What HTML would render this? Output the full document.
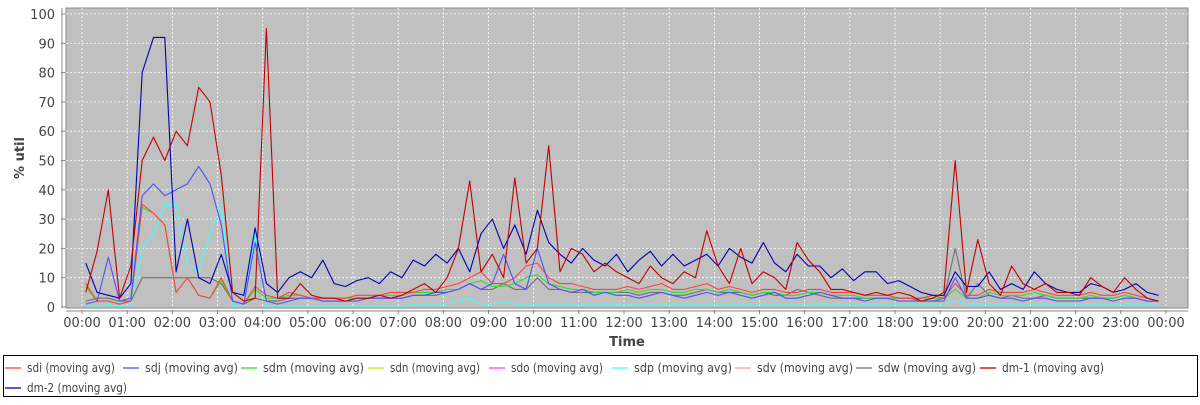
<!DOCTYPE html>
<html><head><meta charset="utf-8"><style>
body{margin:0;background:#fff;font-family:"Liberation Sans","DejaVu Sans",sans-serif}
svg text{font-family:"DejaVu Sans","Liberation Sans",sans-serif}
</style></head><body>
<svg id="c" width="1200" height="400">
<rect x="66" y="8" width="1122" height="300" fill="#c0c0c0" stroke="#888"/>
<g id="grid"></g><g id="axes"></g><g id="series"></g>
<text x="627" y="346" font-size="13" font-weight="bold" fill="#444" text-anchor="middle">Time</text>
<text transform="translate(24,158) rotate(-90)" font-size="13" font-weight="bold" fill="#444" text-anchor="middle">% util</text>
<rect x="3.5" y="355.5" width="1194" height="41" fill="#fff" stroke="#000"/>
<g id="legend"></g>
</svg>
<script>
const startMin=5, stepMin=15;
const yTicks=[0,10,20,30,40,50,60,70,80,90,100];
const xTickLabels=["00:00","01:00","02:00","03:00","04:00","05:00","06:00","07:00","08:00","09:00","10:00","11:00","12:00","13:00","14:00","15:00","16:00","17:00","18:00","19:00","20:00","21:00","22:00","23:00","00:00"];
const seriesNames=["sdi","sdj","sdm","sdn","sdo","sdp","sdv","sdw","dm-1","dm-2"];
const seriesColors=["#ff4040","#5050ff","#30e030","#e0e000","#ff40ff","#40ffff","#ffa0a0","#707070","#c00000","#0000b0"];
const dm2=[15,5,4,3,8,80,92,92,12,30,10,8,18,5,4,27,8,5,10,12,10,16,8,7,9,10,8,12,10,16,14,18,15,20,12,25,30,20,28,18,33,22,18,15,20,16,14,18,12,16,19,14,18,14,16,18,14,20,17,15,22,15,12,18,14,14,10,13,9,12,12,8,9,7,5,4,4,12,7,7,12,6,8,6,12,8,6,5,5,8,7,5,6,8,5,4];
const dm1=[5,19,40,3,14,50,58,50,60,55,75,70,45,5,2,3,95,3,3,8,4,3,3,2,3,3,4,3,4,6,8,5,10,20,43,12,18,10,44,15,20,55,12,20,18,12,15,12,10,8,14,10,8,12,10,26,14,8,20,8,12,10,6,22,16,12,6,6,5,4,5,4,5,4,2,3,5,50,5,23,8,4,14,8,6,8,5,5,4,10,7,5,10,6,3,2];
const sdj=[1,2,17,2,3,38,42,38,40,42,48,42,28,2,1,22,2,1,2,3,3,2,2,2,2,3,3,3,3,4,4,5,5,6,8,6,8,18,8,6,20,8,6,5,6,4,5,4,4,3,4,5,4,3,4,5,4,5,4,3,4,5,3,3,4,5,4,3,3,2,3,3,2,2,2,2,2,10,3,3,4,3,3,2,3,3,2,2,2,3,3,2,3,3,2,2];
const sdi=[8,2,2,1,2,35,32,28,5,10,4,3,10,2,1,7,4,3,5,4,3,3,3,3,4,4,4,5,5,5,6,6,7,8,10,12,8,8,10,14,15,10,8,8,7,6,6,6,7,6,7,8,6,6,7,8,6,7,6,5,6,6,5,5,6,6,5,5,5,4,4,4,3,3,3,4,3,8,4,4,6,5,5,5,6,5,4,4,4,5,4,4,5,4,3,2];
const sdp=[0,0,1,0,1,20,25,35,35,15,12,25,35,0,0,25,0,0,0,0,0,0,0,0,0,0,0,0,0,1,1,1,1,2,3,1,1,2,1,1,1,1,1,1,1,1,1,1,1,1,1,1,1,1,1,1,1,1,1,1,1,1,1,1,1,1,1,1,1,1,1,1,1,1,1,1,1,2,1,1,1,1,1,1,1,1,1,1,1,1,1,1,1,1,1,1];
const sdw=[2,3,3,2,2,10,10,10,10,10,10,10,8,2,1,3,2,2,3,3,3,2,2,2,3,3,3,3,3,4,4,4,5,6,8,6,6,8,6,6,10,6,6,5,5,5,5,5,5,4,5,5,4,4,5,6,5,5,5,4,5,4,4,6,5,4,3,3,3,3,3,3,3,3,2,2,3,20,3,8,4,3,4,3,3,4,3,3,3,3,3,3,4,3,2,2];
const sdm=[7,2,2,1,2,34,32,28,5,10,4,3,9,2,1,6,3,3,4,4,3,3,3,3,3,3,4,4,4,5,5,5,6,6,8,9,7,7,8,10,11,8,7,6,6,5,5,5,6,5,6,6,5,5,6,6,5,6,5,4,5,5,4,4,5,5,4,4,4,3,3,3,3,3,3,3,3,6,3,3,5,4,4,4,5,4,3,3,3,4,3,3,4,3,2,2];
const NS="http://www.w3.org/2000/svg";
const X=m=>82+m/60*(1084/24), Y=v=>307-v*2.93;
function mk(tag,attrs,parent,txt){const e=document.createElementNS(NS,tag);for(const k in attrs)e.setAttribute(k,attrs[k]);if(txt!==undefined)e.textContent=txt;parent.appendChild(e);return e;}
const grid=document.getElementById('grid'),axes=document.getElementById('axes');
yTicks.forEach(t=>{
  if(t>0){const g=mk('line',{x1:66,x2:1188,y1:Y(t),y2:Y(t),stroke:'#fff','stroke-dasharray':'2,2','stroke-width':0.8},grid);
  
  }
  const l=mk('text',{x:55,y:Y(t)+5,'font-size':13,fill:'#444','text-anchor':'end'},axes,String(t));
  
  
  mk('line',{x1:61,x2:66,y1:Y(t),y2:Y(t),stroke:'#888'},axes);
});
xTickLabels.forEach((s,i)=>{
  const x=X(i*60);
  const g=mk('line',{x1:x,x2:x,y1:8,y2:308,stroke:'#fff','stroke-dasharray':'2,2','stroke-width':0.8},grid);
  
  
  mk('line',{x1:x,x2:x,y1:310,y2:314,stroke:'#888'},axes);
  const l=mk('text',{x:x,y:327,'font-size':13,fill:'#444','text-anchor':'middle'},axes,s);
  
  
});
mk('line',{x1:66,x2:1188,y1:311,y2:311,stroke:'#888'},axes);
mk('line',{x1:62,x2:62,y1:8,y2:308,stroke:'#888'},axes);
const ser=document.getElementById('series');
function draw(arr,color,name){
  const pts=arr.map((v,i)=>X(startMin+i*stepMin).toFixed(1)+','+Y(v).toFixed(1)).join(' ');
  const p=mk('polyline',{points:pts,fill:'none',stroke:color,'stroke-width':1.1,'stroke-linejoin':'round'},ser);
  
  
}
draw(sdp,'#40ffff','sdp');draw(sdw,'#707070','sdw');draw(sdm,'#30e030','sdm');
draw(sdi,'#ff4040','sdi');draw(sdj,'#5050ff','sdj');draw(dm2,'#0000b0','dm-2');draw(dm1,'#c00000','dm-1');
const lg=document.getElementById('legend');
const lx=[5,123,241,368,489,612,735,856,980,5];
const tw=[88,93,101,90,92,98,96,98,102,100];
seriesNames.forEach((n,i)=>{
  const y=i<9?368:388;
  const g=mk('g',{},lg);
  
  
  mk('line',{x1:lx[i],x2:lx[i]+16,y1:y,y2:y,stroke:seriesColors[i],'stroke-width':1.3},g);
  mk('text',{x:lx[i]+22,y:y+4,'font-size':12.5,fill:'#444',textLength:tw[i],lengthAdjust:'spacingAndGlyphs'},g,n+' (moving avg)');
});
</script>
</body></html>
